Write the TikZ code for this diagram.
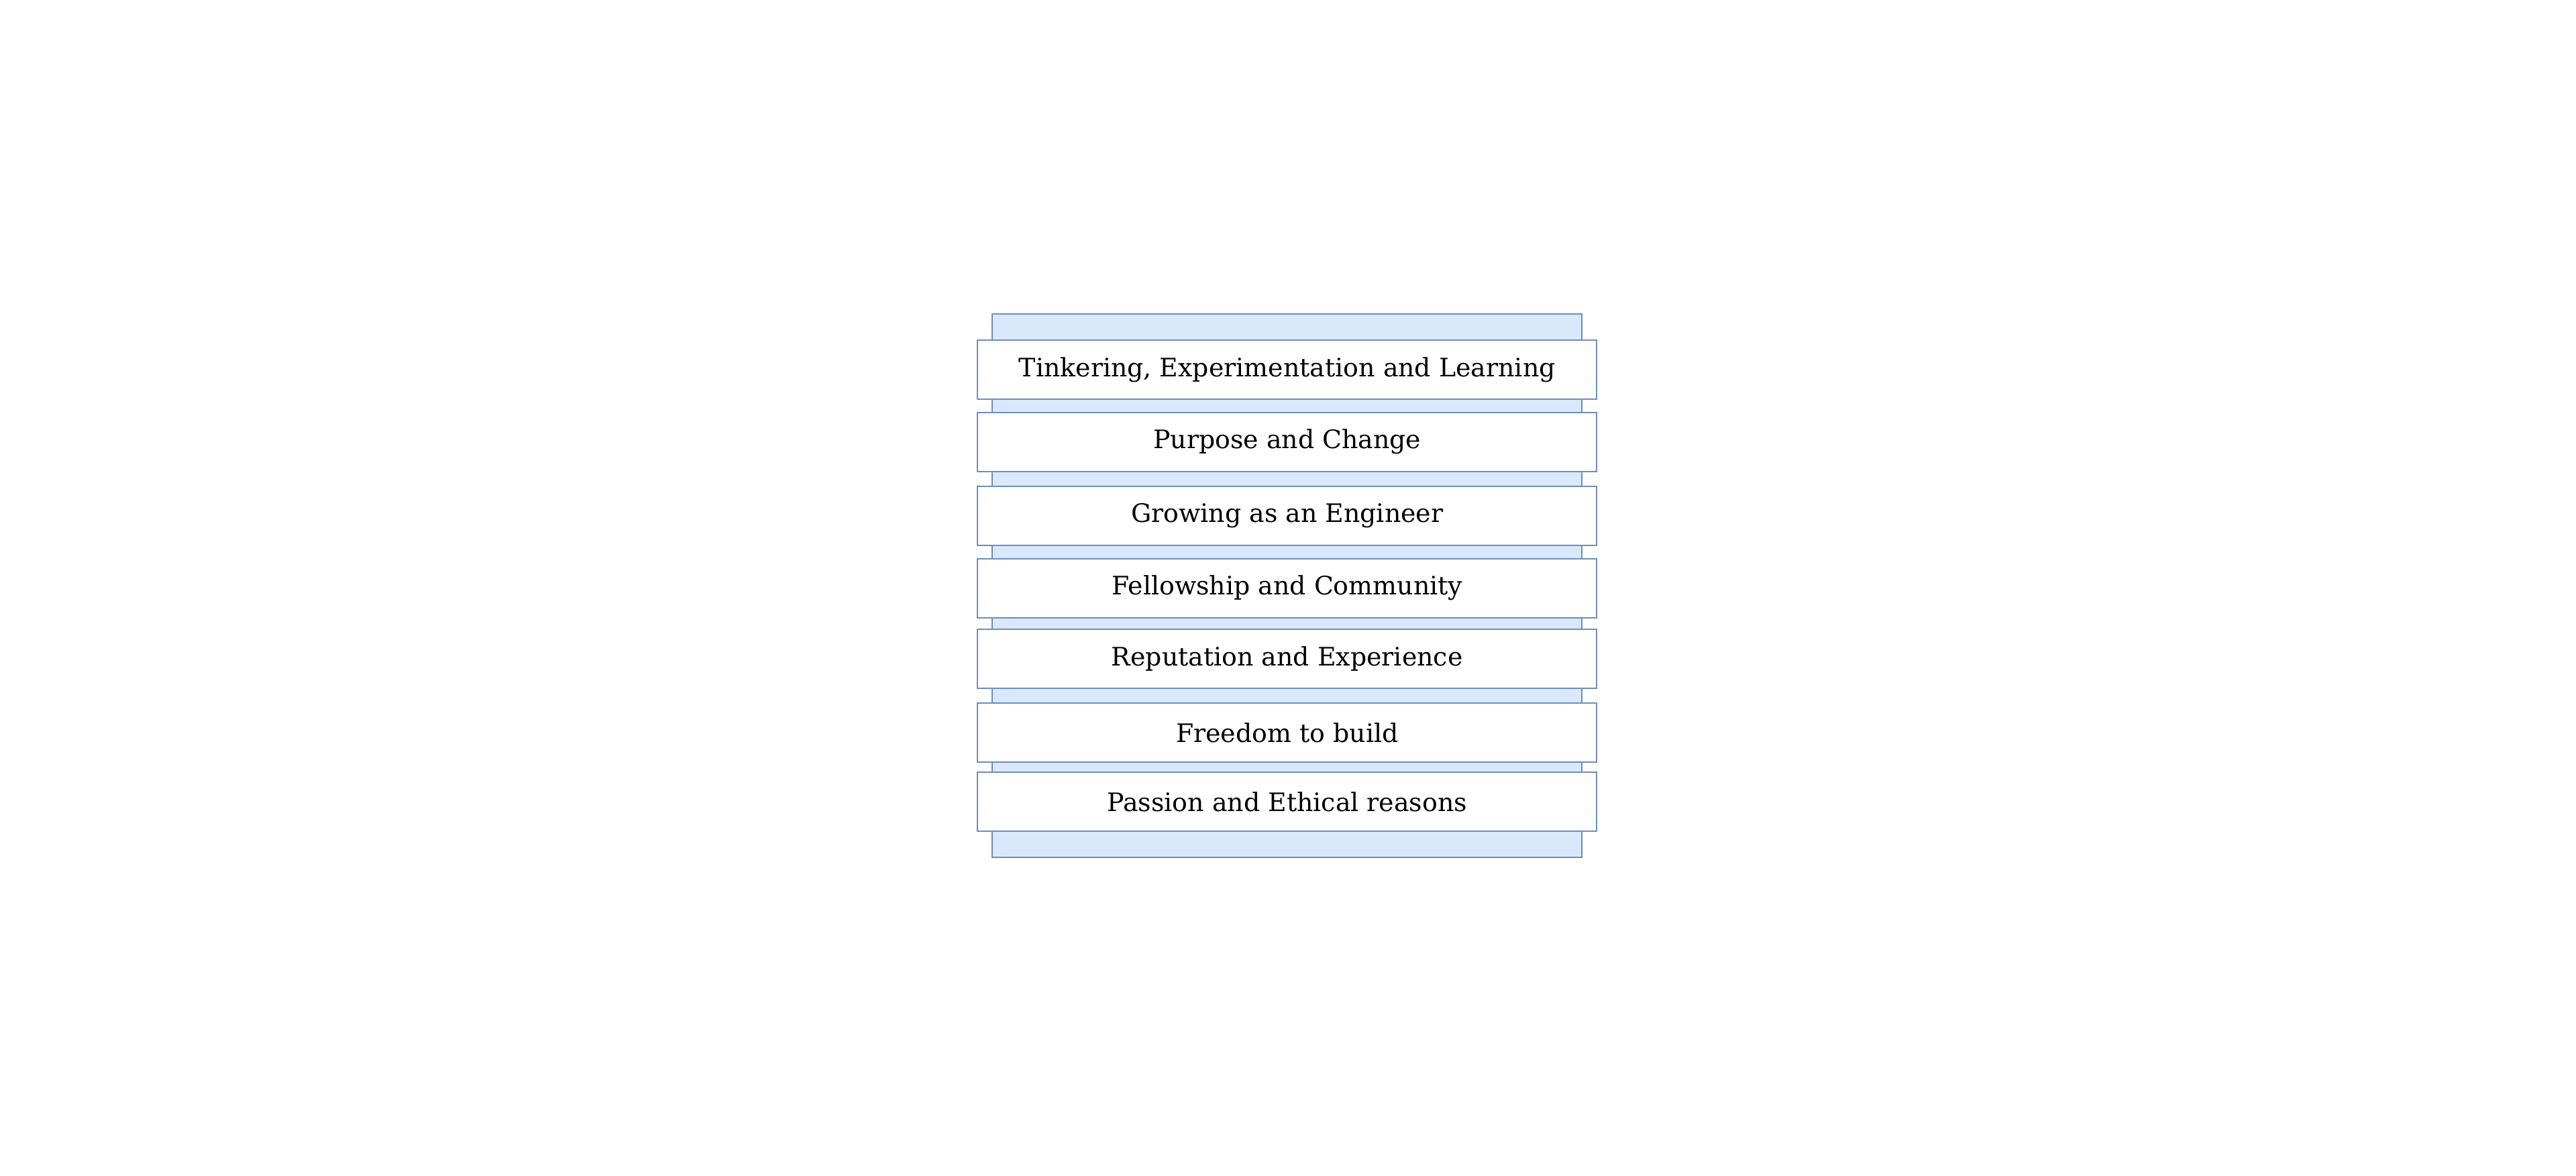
\documentclass[tikz,border=0pt]{standalone}
\usepackage{fontspec}
\setmainfont{DejaVu Serif}
\definecolor{paleblue}{HTML}{DAE8FC}
\definecolor{lineblue}{HTML}{6C8EBF}
\begin{document}
\begin{tikzpicture}[x=0.025cm,y=-0.025cm,
    backrect/.style={draw=lineblue,fill=paleblue,line width=0.6pt},
    layerbox/.style={draw=lineblue,fill=white,line width=0.6pt,minimum width=377*0.025cm,
        minimum height=36*0.025cm,inner sep=0pt,font=\fontsize{11}{13}\selectfont}]
  \useasboundingbox (0,0) rectangle (1568,715.4);
  \draw[backrect] (604,191) rectangle (963,522);
  \node[layerbox] (tinker) at (783.5,225) {Tinkering, Experimentation and Learning};
  \node[layerbox] (purpose) at (783.5,269) {Purpose and Change};
  \node[layerbox] (growing) at (783.5,314) {Growing as an Engineer};
  \node[layerbox] (fellow) at (783.5,358) {Fellowship and Community};
  \node[layerbox] (reput) at (783.5,401) {Reputation and Experience};
  \node[layerbox] (freedom) at (783.5,446) {Freedom to build};
  \node[layerbox] (passion) at (783.5,488) {Passion and Ethical reasons};
\end{tikzpicture}
\end{document}
